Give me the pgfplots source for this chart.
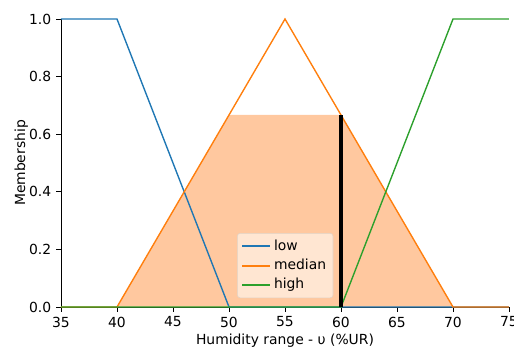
\documentclass[border=0pt]{standalone}
\usepackage{pgfplots}
\pgfplotsset{compat=1.18}
\usepackage{fontspec}
\setmainfont{DejaVu Sans}
\definecolor{tabblue}{HTML}{1F77B4}
\definecolor{taborange}{HTML}{FF7F0E}
\definecolor{tabgreen}{HTML}{2CA02C}
\definecolor{fillorange}{HTML}{FFC89F}
\definecolor{legbg}{HTML}{FFE6D2}
\definecolor{legframe}{HTML}{E0D2C6}
\begin{document}
\begin{tikzpicture}
\begin{axis}[
  scale only axis,
  width=322.56pt, height=207.36pt,
  xmin=35, xmax=75, ymin=0, ymax=1,
  axis x line*=bottom, axis y line*=left,
  axis line style={black, line width=0.6pt},
  tick align=outside,
  tick style={black, line width=0.6pt},
  major tick length=3.5pt,
  xtick={35,40,45,50,55,60,65,70,75},
  ytick={0,0.2,0.4,0.6,0.8,1.0},
  yticklabel style={/pgf/number format/.cd, fixed, fixed zerofill, precision=1},
  /pgf/number format/assume math mode=true,
  ticklabel style={font=\fontsize{10}{12}\selectfont},
  label style={font=\fontsize{10}{12}\selectfont},
  xlabel={Humidity range - υ (\%UR)},
  ylabel={Membership},
  xlabel style={yshift=2pt},
  ylabel style={yshift=-6pt},
  clip=false,
  legend cell align=left,
  legend style={at={(0.393,0.031)}, anchor=south west, draw=legframe, rounded corners=2pt,
    fill=legbg, font=\fontsize{10}{12}\selectfont,
    inner xsep=3pt, inner ysep=2.5pt, row sep=0pt,
    nodes={inner sep=2pt, text height=7.6pt, text depth=2.2pt}},
  legend image code/.code={\draw[#1, line width=1.4pt] (0pt,0pt) -- (20pt,0pt);},
]
\addplot[draw=none, fill=fillorange, forget plot] coordinates {(40,0) (50,0.6667) (60,0.6667) (70,0)} -- cycle;
\addplot[tabblue, line width=1pt] coordinates {(35,1) (40,1) (50,0) (75,0)};
\addlegendentry{low}
\addplot[taborange, line width=1pt] coordinates {(35,0) (40,0) (55,1) (70,0) (75,0)};
\addlegendentry{median}
\addplot[tabgreen, line width=1pt] coordinates {(35,0) (60,0) (70,1) (75,1)};
\addlegendentry{high}
\addplot[black, line width=2.9pt, forget plot] coordinates {(60,0) (60,0.6667)};
\coordinate (sw) at (rel axis cs:0,0);
\coordinate (ne) at (rel axis cs:1,1);
\end{axis}
\pgfresetboundingbox
\path ([shift={(-43.92pt,-28.8pt)}]sw) rectangle ([shift={(3.6pt,13.68pt)}]ne);
\end{tikzpicture}
\end{document}
